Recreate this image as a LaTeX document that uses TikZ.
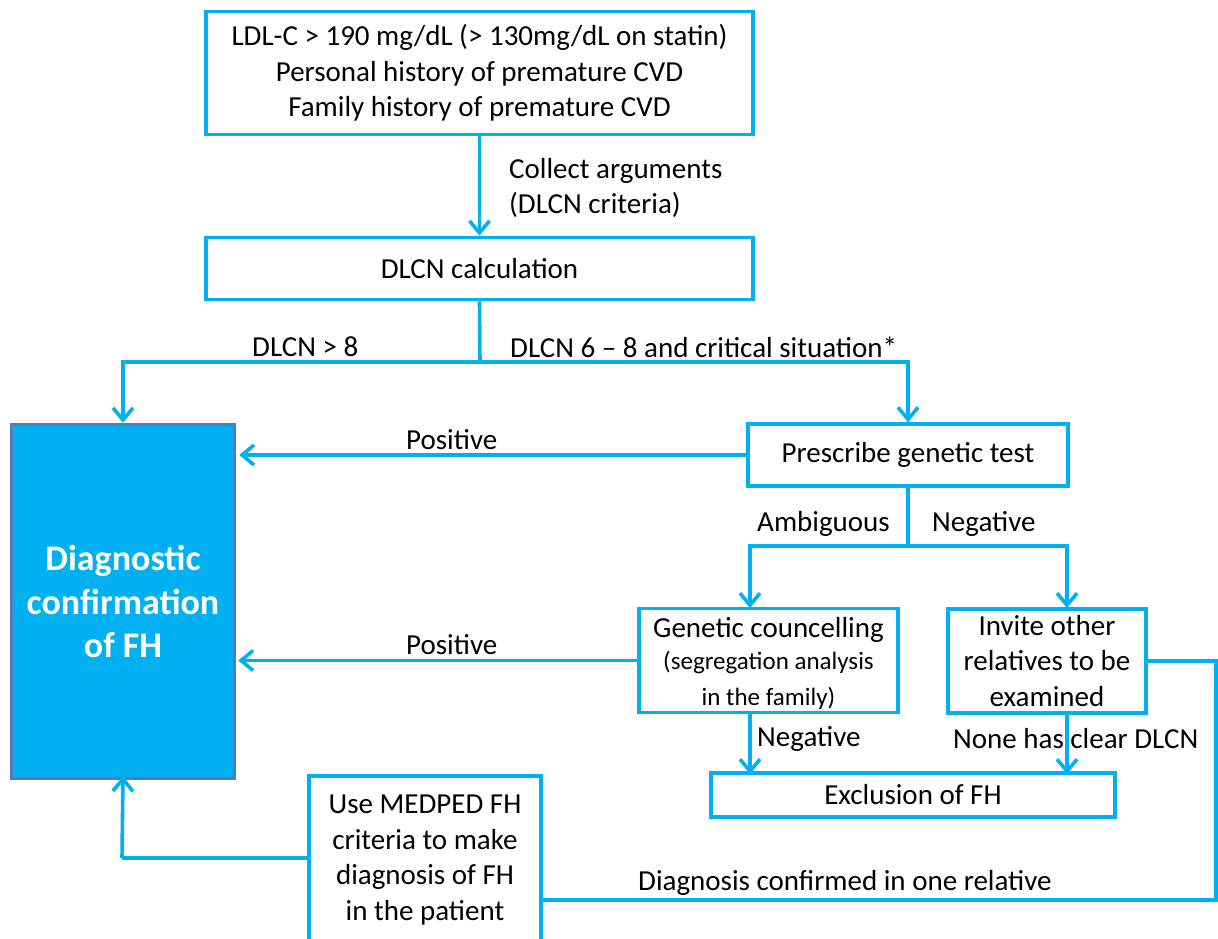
\documentclass[tikz,border=0pt]{standalone}
\usepackage{fontspec}
\setmainfont{Carlito}
\usetikzlibrary{arrows.meta}
\definecolor{cy}{HTML}{00B0F0}
\definecolor{slate}{HTML}{4F7DBF}
\tikzset{
  box/.style={draw=cy, line width=3.6pt, fill=white, inner sep=0pt, align=center,
    font=\fontsize{29}{35.5}\selectfont, text=black},
  lbl/.style={inner sep=0pt, anchor=west, font=\fontsize{29}{35}\selectfont, align=left},
  arr/.style={draw=cy, line width=3.6pt, -{Straight Barb[length=12pt,width=20pt,line width=3.6pt]}},
  ln/.style={draw=cy, line width=3.6pt},
}
\begin{document}
\begin{tikzpicture}[x=1pt,y=-1pt]
\clip (0,0) rectangle (1218,938);
\fill[white] (0,0) rectangle (1218,938);
% boxes
\node[box, minimum width=547pt, minimum height=123pt] (top) at (479.5,73)
  {LDL-C > 190 mg/dL (> 130mg/dL on statin)\\Personal history of premature CVD\\Family history of premature CVD};
\node[box, minimum width=547pt, minimum height=62pt] (calc) at (479.5,268.5) {DLCN calculation};
\node[draw=slate, fill=cy, line width=3.6pt, minimum width=223pt, minimum height=354pt, inner sep=0pt,
  align=center, text=white, font=\fontsize{36}{43.5}\selectfont\bfseries] (diag) at (123,601.5)
  {Diagnostic\\confirmation\\of FH};
\node[box, minimum width=320pt, minimum height=62pt] (presc) at (908,455) {Prescribe genetic test};
\node[box, minimum width=259pt, minimum height=104pt] (genc) at (768.5,660.5)
  {\rule{0pt}{26pt}Genetic councelling\\[-3pt]{\fontsize{25}{30}\selectfont (segregation analysis}\\{\fontsize{25}{30}\selectfont in the family)}};
\node[box, minimum width=198pt, minimum height=104pt] (inv) at (1047,661)
  {Invite other\\relatives to be\\examined};
\node[box, minimum width=404pt, minimum height=44pt] (excl) at (913,795) {Exclusion of FH};
\node[box, minimum width=232pt, minimum height=168pt] (med) at (425,860)
  {Use MEDPED FH\\criteria to make\\diagnosis of FH\\in the patient};
% coordinates
\coordinate (j1) at (480,362);
\coordinate (j2) at (908,546);
\coordinate (ga) at (750,608);
\coordinate (ia) at (1067,608);
\coordinate (gb) at (750,713);
\coordinate (ib) at (1067,713);
\coordinate (ge) at (750,774);
\coordinate (ie) at (1067,774);
\coordinate (r1) at (1216,661);
\coordinate (r2) at (1216,900);
\coordinate (l1) at (122,858);
% connectors
\draw[arr] (top) -- (calc);
\draw[ln] (calc.south) -- (j1);
\draw[arr] (j1) -| (diag.north);
\draw[arr] (j1) -| (presc.north);
\draw[arr] (presc.west) -- ([xshift=3pt]diag.east |- presc.west);
\draw[ln] (presc.south) -- (j2);
\draw[arr] (j2) -| (ga);
\draw[arr] (j2) -| (ia);
\draw[arr] (genc.west) -- ([xshift=2pt]diag.east |- genc.west);
\draw[arr] (gb) -- (ge);
\draw[arr] (ib) -- (ie);
\draw[ln] (inv.east) -- (r1) -- (r2) -- (med.east |- r2);
\draw[ln] (med.west |- l1) -- (l1);
\draw[arr] (l1) -- ([yshift=4pt]diag.south);
% labels
\node[lbl] (la) at (509,188) {Collect arguments\\(DLCN criteria)};
\node[lbl] (lb) at (252,347) {DLCN > 8};
\node[lbl] (lc) at (510,347) {DLCN 6 – 8 and critical situation*};
\node[lbl] (ld) at (406,440) {Positive};
\node[lbl] (le) at (406,645) {Positive};
\node[lbl] (lf) at (757,524) {Ambiguous};
\node[lbl] (lg) at (932,524) {Negative};
\node[lbl] (lh) at (757,739) {Negative};
\node[lbl] (li) at (953,739) {None has clear DLCN};
\node[lbl] (lj) at (638,883) {Diagnosis confirmed in one relative};
\end{tikzpicture}
\end{document}
